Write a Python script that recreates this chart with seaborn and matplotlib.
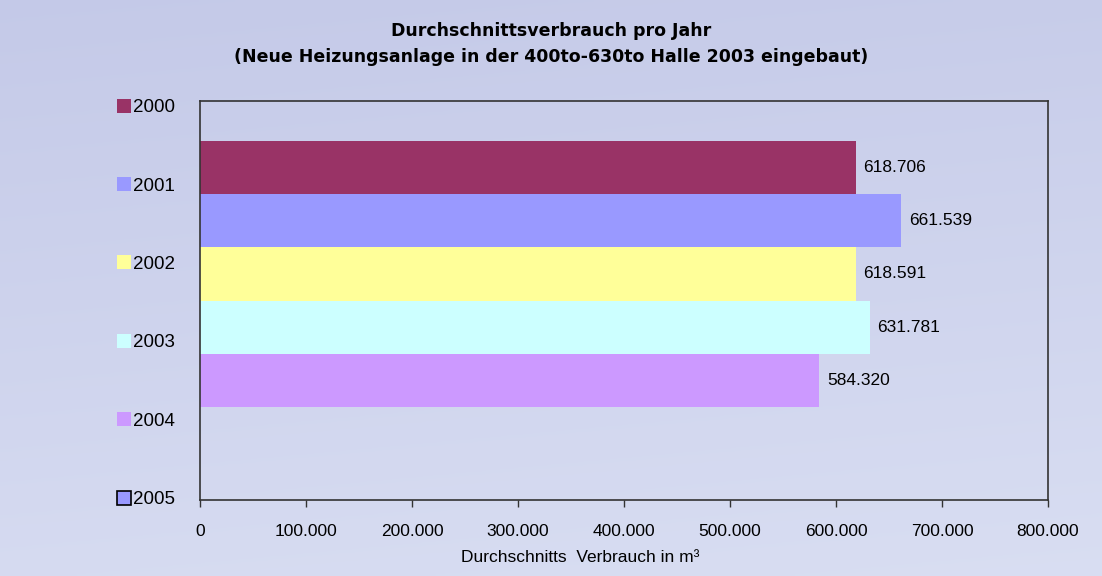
import numpy as np
import pandas as pd
import matplotlib
matplotlib.use("Agg")
import matplotlib.pyplot as plt
import seaborn as sns
from matplotlib.lines import Line2D

# Data
years = ["2000", "2001", "2002", "2003", "2004", "2005"]
verbrauch = [618706, 661539, 618591, 631781, 584320, np.nan]
bar_colors = ["#993366", "#9999FF", "#FFFF99", "#CCFFFF", "#CC99FF", "#9999FF"]
x_ticks = [0, 100000, 200000, 300000, 400000, 500000, 600000, 700000, 800000]

title = ("Durchschnittsverbrauch pro Jahr\n"
         "(Neue Heizungsanlage in der 400to-630to Halle 2003 eingebaut)")
x_label = "Durchschnitts  Verbrauch in m³"


def _de_fmt(v: float) -> str:
    if v == 0:
        return "0"
    return f"{v:,.0f}".replace(",", ".")


df = pd.DataFrame({"year": years, "value": verbrauch})

sns.set_style("white")
plt.rcParams["font.family"] = ["Liberation Sans", "DejaVu Sans"]
plt.rcParams["text.color"] = "black"
plt.rcParams["xtick.color"] = "black"
plt.rcParams["axes.labelcolor"] = "black"

fig = plt.figure(figsize=(11.02, 5.76), dpi=100)

# Background gradient (lavender, lighter towards the bottom)
bg = fig.add_axes([0, 0, 1, 1], zorder=-10)
yy = np.linspace(0, 1, 200)[:, None]
xx = np.linspace(0, 1, 300)[None, :]
top = np.array([0.77, 0.79, 0.91])
bot = np.array([0.85, 0.87, 0.95])
t = np.clip(yy * 0.85 + 0.15 * xx, 0, 1)[..., None]
img = top * (1 - t) + bot * t
bg.imshow(img, aspect="auto", extent=[0, 1, 0, 1], origin="upper")
bg.axis("off")

ax = fig.add_axes([200 / 1102, 1 - 500 / 576, 848 / 1102, 399 / 576])
ax.set_facecolor("none")

sns.barplot(
    data=df, x="value", y="year", hue="year", order=years, hue_order=years,
    palette=dict(zip(years, bar_colors)), width=1.0, orient="h",
    legend=False, ax=ax, saturation=1, linewidth=0,
)

# Value labels
for i, v in enumerate(verbrauch):
    if not np.isnan(v):
        ax.text(v + 7000, i, _de_fmt(v), va="center", ha="left", fontsize=12.5)

ax.set_xlim(0, 800000)
ax.set_ylim(6.25, -1.25)
ax.set_xticks(x_ticks)
ax.set_xticklabels([_de_fmt(v) for v in x_ticks], fontsize=12.5)
ax.set_yticks([])
ax.set_ylabel("")
ax.set_xlabel(x_label, fontsize=12.5)
ax.xaxis.set_label_coords((580 - 200) / 848, -0.125)
ax.tick_params(axis="x", direction="out", length=5, width=1, color="#333333",
               bottom=True, pad=12)
for sp in ax.spines.values():
    sp.set_visible(True)
    sp.set_color("#333333")
    sp.set_linewidth(1.2)

# Legend down the left side
handles = []
for y, c in zip(years, bar_colors):
    edge = "black" if y == "2005" else c
    handles.append(Line2D([], [], marker="s", linestyle="none", markersize=9.5,
                          markerfacecolor=c, markeredgecolor=edge,
                          markeredgewidth=1.2 if y == "2005" else 0))
fig.legend(handles, years, loc="upper left", bbox_to_anchor=(113 / 1102, 1 - 99 / 576),
           frameon=False, fontsize=13.5, labelspacing=3.27, handletextpad=-0.15,
           handlelength=1.2, borderpad=0, borderaxespad=0)

fig.text(0.5, 1 - 44 / 576, title, ha="center", va="center", fontsize=12.5,
         fontweight="bold", family="DejaVu Sans", linespacing=1.5)

fig.savefig("out.png", dpi=100)
